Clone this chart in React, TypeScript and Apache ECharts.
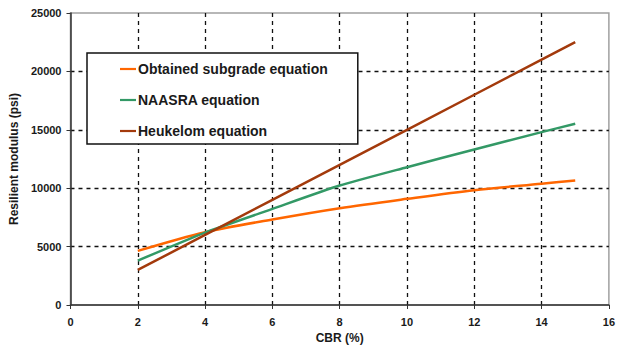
import React, { useEffect, useRef } from "react";
import * as echarts from "echarts";

const cbr = [2, 4, 6, 8, 10, 12, 14, 15];
const obtained = [4630, 6230, 7320, 8290, 9090, 9830, 10380, 10660];
const naasra = [3800, 6200, 8230, 10230, 11800, 13320, 14800, 15520];
const heukelom = [3000, 6000, 9000, 12000, 15000, 18000, 21000, 22500];
const seriesNames = ["Obtained subgrade equation", "NAASRA equation", "Heukelom equation"];
const colors = ["#ff6600", "#339966", "#a33a0c"];

const font = "'Liberation Sans', Arial, sans-serif";
const txt = "#1a1a1a";

export default function App() {
  const ref = useRef<HTMLDivElement>(null);
  useEffect(() => {
    if (!ref.current) return;
    const chart = echarts.init(ref.current, null, { renderer: "svg" });
    const mk = (arr: number[]) => cbr.map((x, i) => [x, arr[i]]);
    const allData = [obtained, naasra, heukelom];
    chart.setOption({
      animation: false,
      backgroundColor: "#fff",
      grid: {
        left: 68,
        right: 5,
        top: 13,
        bottom: 44,
        show: true,
        borderColor: "#a0a0a0",
        borderWidth: 1.5,
        backgroundColor: "transparent",
      },
      legend: {
        orient: "vertical",
        left: 87,
        top: 53,
        data: seriesNames,
        backgroundColor: "#fff",
        borderColor: "#111",
        borderWidth: 1.5,
        borderRadius: 0,
        padding: [9, 30, 6, 33],
        itemGap: 17,
        itemWidth: 16,
        itemHeight: 2.2,
        icon: "rect",
        textStyle: {
          fontFamily: font,
          fontWeight: "bold",
          fontSize: 14,
          color: txt,
          padding: [0, 0, 0, -3],
        },
        z: 10,
      },
      xAxis: {
        type: "value",
        min: 0,
        max: 16,
        interval: 2,
        name: "CBR (%)",
        nameLocation: "middle",
        nameGap: 27,
        nameTextStyle: { fontFamily: font, fontWeight: "bold", fontSize: 12, color: txt },
        axisLine: { show: true, lineStyle: { color: "#333", width: 1.5 } },
        axisTick: { show: true, length: 4, lineStyle: { color: "#333" } },
        axisLabel: { fontFamily: font, fontWeight: "bold", fontSize: 11, color: txt, margin: 11 },
        splitLine: {
          show: true,
          showMinLine: false,
          showMaxLine: false,
          lineStyle: { color: "#111", type: [4, 4], width: 1.3 },
        },
      },
      yAxis: {
        type: "value",
        min: 0,
        max: 25000,
        interval: 5000,
        name: "Resilient modulus (psi)",
        nameLocation: "middle",
        nameGap: 49,
        nameTextStyle: { fontFamily: font, fontWeight: "bold", fontSize: 12, color: txt },
        axisLine: { show: true, lineStyle: { color: "#333", width: 1.5 } },
        axisTick: { show: true, length: 4, lineStyle: { color: "#333" } },
        axisLabel: {
          fontFamily: font,
          fontWeight: "bold",
          fontSize: 11,
          color: txt,
          margin: 9,
          formatter: (v: number) => String(v),
        },
        splitLine: {
          show: true,
          showMinLine: false,
          showMaxLine: false,
          lineStyle: { color: "#111", type: [4, 4], width: 1.3 },
        },
      },
      series: seriesNames.map((name, i) => ({
        name,
        type: "line",
        data: mk(allData[i]),
        smooth: i === 1 ? 0.2 : i === 0 ? 0.3 : false,
        showSymbol: false,
        symbol: "none",
        lineStyle: { color: colors[i], width: 2.5 },
        itemStyle: { color: colors[i] },
        z: 3 + i,
      })),
    });
    return () => chart.dispose();
  }, []);
  return (
    <div
      ref={ref}
      style={{ position: "fixed", left: 0, top: 0, width: 618, height: 349 }}
    />
  );
}
